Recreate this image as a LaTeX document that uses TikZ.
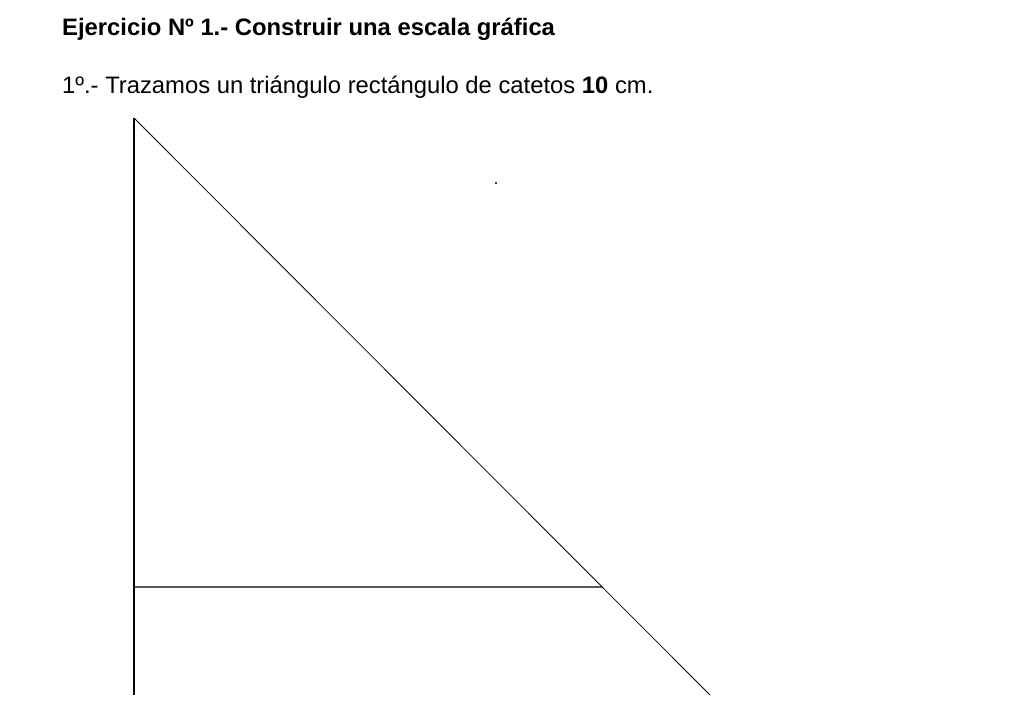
\documentclass[tikz,border=0pt]{standalone}
\usepackage{fontspec}
\setmainfont{Liberation Sans}
\usetikzlibrary{positioning}
\usetikzlibrary{calc}

\tikzset{
  texto/.style={anchor=base west, inner sep=0pt, font=\fontsize{23.8}{28}\selectfont},
  cateto/.style={line width=1.4pt},
  hipo/.style={line width=0.8pt}
}

\begin{document}
\begin{tikzpicture}[x=1pt,y=-1pt]
\useasboundingbox (0,0) rectangle (1009,720);
\node[texto] (titulo) at (62,35) {\textbf{Ejercicio Nº 1.- Construir una escala gráfica}};
\node[texto] (paso) at (62,93) {1º.- Trazamos un triángulo rectángulo de catetos \textbf{10} cm.};
\coordinate (A) at (134,118);
\coordinate (B) at (134,695);
\coordinate (C) at (710,695);
\coordinate (H) at (134,587);
\coordinate (D) at (intersection cs: first line={(A)--(C)}, second line={(H)--($(H)+(10,0)$)});
\coordinate (P) at (496,183);
\draw[cateto] (A) -- (B);
\draw[hipo] (A) -- (C);
\draw[cateto] (H) -- (D);
\fill (P) circle (1.2);
\end{tikzpicture}
\end{document}
